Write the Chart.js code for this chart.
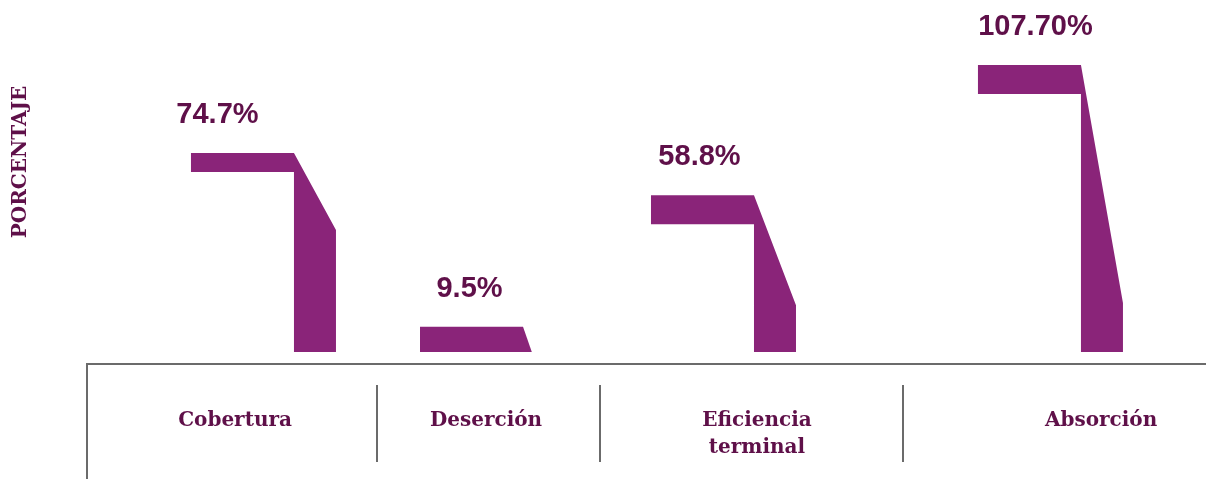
<!DOCTYPE html>
<html>
<head>
<meta charset="utf-8">
<script src="https://cdn.jsdelivr.net/npm/chart.js@4.4.1/dist/chart.umd.min.js"></script>
<style>
    html, body { margin: 0; padding: 0; background: #ffffff; }
    #wrap { position: relative; width: 1206px; height: 479px; }
</style>
</head>
<body>
<div id="wrap"><canvas id="chart"></canvas></div>
<script>
// ############################### DATA ###############################

var categories = ['Cobertura', 'Deserción', ['Eficiencia', 'terminal'], 'Absorción'];
var values = [74.7, 9.5, 58.8, 107.7];
var valueLabels = ['74.7%', '9.5%', '58.8%', '107.70%'];
var axisTitle = 'PORCENTAJE';

// ############################### LAYOUT ###############################
// x axis runs 0..100 across the plot, slots are not evenly spaced

var shapeCenters = [15.77, 36.24, 56.88, 86.10];
var labelCenters = [13.23, 35.66, 59.87, 90.62];
var separators = [25.92, 45.84, 72.92];

// look of each "7" shape: top strip thickness, how far the slant runs down (px)
var stripThick = [19, 23, 29, 29];
var slantDrop = [77, 121, 110, 238];
var labelShift = [-25, -2, -3, 6];

var barColor = '#8a2479';
var textColor = '#5f1049';
var lineColor = '#6b6b6b';

// ############################### PLUGIN ###############################

var shapePlugin = {
    id: 'shapes',
    afterDatasetsDraw: function (chart) {
        var ctx = chart.ctx;
        var meta = chart.getDatasetMeta(0);
        var xs = chart.scales.x;
        var area = chart.chartArea;

        ctx.save();

        // the "7" shapes
        meta.data.forEach(function (el, i) {
            var p = el.getProps(['x', 'y', 'base', 'width'], true);
            var left = p.x - p.width / 2;
            var right = p.x + p.width / 2;
            var stemW = 42;
            var stemL = right - stemW;
            var top = p.y;
            var base = p.base;
            var drop = slantDrop[i];

            ctx.fillStyle = barColor;
            ctx.beginPath();
            if (top + stripThick[i] >= base - 5) {
                // short bar: only the strip and the start of the slant
                ctx.moveTo(left, top);
                ctx.lineTo(stemL, top);
                var h = base - top;
                ctx.lineTo(stemL + stemW * Math.min(1, h / drop), base);
                ctx.lineTo(left, base);
            } else {
                ctx.moveTo(left, top);
                ctx.lineTo(stemL, top);
                ctx.lineTo(right, Math.min(top + drop, base));
                ctx.lineTo(right, base);
                ctx.lineTo(stemL, base);
                ctx.lineTo(stemL, top + stripThick[i]);
                ctx.lineTo(left, top + stripThick[i]);
            }
            ctx.closePath();
            ctx.fill();

            // value label over the top strip
            ctx.fillStyle = textColor;
            ctx.font = 'bold 29px "Liberation Sans", Arial, sans-serif';
            ctx.textAlign = 'center';
            ctx.textBaseline = 'alphabetic';
            ctx.fillText(valueLabels[i], left + (stemL - left) / 2 + labelShift[i], top - 30);
        });

        // separators between categories
        ctx.strokeStyle = lineColor;
        ctx.lineWidth = 2;
        separators.forEach(function (v) {
            var x = Math.round(xs.getPixelForValue(v));
            ctx.beginPath();
            ctx.moveTo(x, area.bottom + 21);
            ctx.lineTo(x, area.bottom + 98);
            ctx.stroke();
        });

        // left frame line under the axis
        ctx.beginPath();
        ctx.moveTo(area.left, area.bottom);
        ctx.lineTo(area.left, chart.height);
        ctx.stroke();

        // rotated axis title
        ctx.translate(21, 162);
        ctx.rotate(-Math.PI / 2);
        ctx.fillStyle = textColor;
        ctx.font = 'bold 20px "DejaVu Serif", serif';
        ctx.textAlign = 'center';
        ctx.textBaseline = 'middle';
        ctx.fillText(axisTitle, 0, 0);

        ctx.restore();
    }
};

// ############################### MAIN ###############################

var points = values.map(function (v, i) {
    return {x: shapeCenters[i], y: v};
});

var chart = new Chart(document.getElementById('chart'), {
    type: 'bar',
    data: {
        datasets: [{
            data: points,
            backgroundColor: 'rgba(0,0,0,0)',
            barThickness: 145
        }]
    },
    options: {
        responsive: true,
        maintainAspectRatio: false,
        animation: false,
        layout: {padding: {left: 87, top: 10, right: 0, bottom: 0}},
        plugins: {legend: {display: false}, tooltip: {enabled: false}},
        scales: {
            x: {
                type: 'linear',
                offset: false,
                min: 0,
                max: 100,
                afterBuildTicks: function (scale) {
                    scale.ticks = labelCenters.map(function (v) { return {value: v}; });
                },
                afterFit: function (scale) {
                    scale.height = 115;
                },
                grid: {display: false, drawTicks: false},
                border: {display: true, color: lineColor, width: 2},
                ticks: {
                    autoSkip: false,
                    maxRotation: 0,
                    padding: 43,
                    color: textColor,
                    font: {family: '"DejaVu Serif", serif', weight: 'bold', size: 20, lineHeight: 1.35},
                    callback: function (value, index) {
                        return categories[index];
                    }
                }
            },
            y: {
                display: false,
                min: -4.5,
                max: 128.3
            }
        }
    },
    plugins: [shapePlugin]
});
</script>
</body>
</html>
